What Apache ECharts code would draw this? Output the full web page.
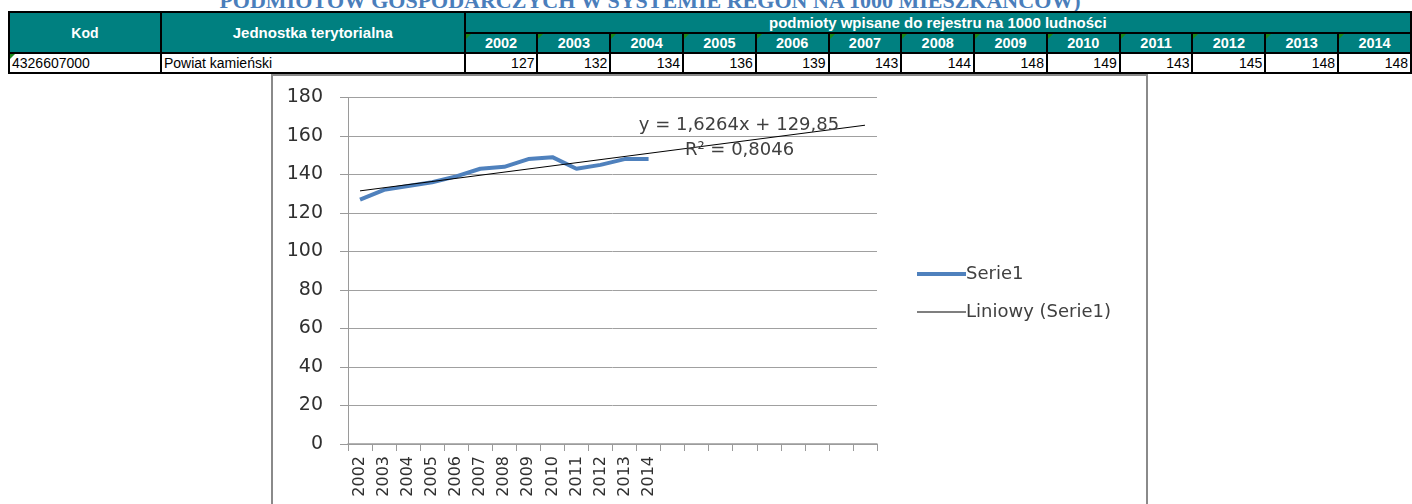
<!DOCTYPE html>
<html>
<head>
<meta charset="utf-8">
<script src="https://cdn.jsdelivr.net/npm/echarts@6/dist/echarts.min.js"></script>
<style>
  html, body { margin: 0; padding: 0; background: #fff; width: 1412px; height: 504px; overflow: hidden; position: relative; }
  #title { position: absolute; left: 0; width: 1300px; top: -10px; text-align: center; font-family: "Liberation Serif", serif; font-weight: bold; font-size: 22px; line-height: 22px; color: #4a7ebb; white-space: nowrap; }
  #tbl { position: absolute; left: 8px; top: 11px; border-collapse: collapse; table-layout: fixed; font-family: "Liberation Sans", Arial, sans-serif; }
  #tbl td, #tbl th { border: 2px solid #000; padding: 0 2px; overflow: hidden; white-space: nowrap; position: relative; }
  #tbl th { background: #008080; color: #fff; font-weight: bold; font-size: 14.5px; text-align: center; line-height: 16px; }
  #tbl th.big { font-size: 15px; }
  #tbl th.kod { font-size: 14px; }
  #tbl td { background: #fff; color: #000; font-size: 14px; height: 17px; line-height: 17px; }
  #tbl td.num { text-align: right; }
  .tri::before { content: ""; position: absolute; left: 0; top: 0; width: 0; height: 0; border-top: 5px solid #1a8a1a; border-right: 5px solid transparent; }
  #chart { position: absolute; left: 0; top: 0; width: 1412px; height: 504px; }
</style>
</head>
<body>
<div id="title"></div>
<table id="tbl"></table>
<div id="chart"></div>
<script>
// ---- data ----
const titleText = 'PODMIOTÓW GOSPODARCZYCH W SYSTEMIE REGON NA 1000 MIESZKAŃCÓW)';
const headerKod = 'Kod';
const headerUnit = 'Jednostka terytorialna';
const headerGroup = 'podmioty wpisane do rejestru na 1000 ludności';
const years = ['2002','2003','2004','2005','2006','2007','2008','2009','2010','2011','2012','2013','2014'];
const rowCode = '4326607000';
const rowName = 'Powiat kamieński';
const values = [127, 132, 134, 136, 139, 143, 144, 148, 149, 143, 145, 148, 148];
const emptyCategories = ['', '', '', '', '', '', '', '', ''];
const seriesName = 'Serie1';
const trendName = 'Liniowy (Serie1)';
const trendPoints = [[0, 131.5], [21, 165.6]];
const trendEquation = 'y = 1,6264x + 129,85';
const trendR2 = 'R² = 0,8046';
const yTicks = [0, 20, 40, 60, 80, 100, 120, 140, 160, 180];

// ---- table ----
document.getElementById('title').textContent = titleText;
const tbl = document.getElementById('tbl');
let colg = '<colgroup><col style="width:152px"><col style="width:304px">';
years.forEach(() => { colg += '<col style="width:72.85px">'; });
colg += '</colgroup>';
let h1 = '<tr style="height:21px"><th class="kod" rowspan="2">' + headerKod + '</th><th class="big" rowspan="2">' + headerUnit + '</th><th class="big" colspan="' + years.length + '">' + headerGroup + '</th></tr>';
let h2 = '<tr style="height:20px">' + years.map(y => '<th class="tri">' + y + '</th>').join('') + '</tr>';
let r = '<tr style="height:20px"><td class="tri">' + rowCode + '</td><td>' + rowName + '</td>' + values.map(v => '<td class="num">' + v + '</td>').join('') + '</tr>';
tbl.innerHTML = colg + h1 + h2 + r;

// ---- chart ----
const categories = years.concat(emptyCategories);
const chart = echarts.init(document.getElementById('chart'), null, { renderer: 'canvas' });
const FONT = '"DejaVu Sans", sans-serif';
chart.setOption({
  animation: false,
  backgroundColor: 'transparent',
  textStyle: { fontFamily: FONT },
  graphic: [
    { type: 'rect', shape: { x: 272, y: 75, width: 875, height: 450 }, style: { fill: 'none', stroke: '#8a8a8a', lineWidth: 2 }, silent: true },
    { type: 'text', x: 739, y: 125, style: { text: trendEquation, font: '18px ' + FONT, fill: '#404040', align: 'center', verticalAlign: 'middle' }, z: 10 },
    { type: 'text', x: 739.5, y: 150, style: { text: trendR2, font: '18px ' + FONT, fill: '#404040', align: 'center', verticalAlign: 'middle' }, z: 10 }
  ],
  grid: { left: 348, right: 535, top: 97.5, bottom: 60, containLabel: false },
  legend: {
    orient: 'vertical', left: 912, top: 260, itemWidth: 49, itemHeight: 18, itemGap: 20,
    symbolKeepAspect: true,
    textStyle: { fontFamily: FONT, fontSize: 18, color: '#404040', padding: [0, 0, 0, -5] },
    data: [
      { name: seriesName, icon: 'path://M0,0 H50 V4 H0 Z', itemStyle: { color: '#4f81bd' } },
      { name: trendName, icon: 'path://M0,0 H50 V1 H0 Z', itemStyle: { color: '#000' } }
    ]
  },
  xAxis: {
    type: 'category', data: categories, boundaryGap: true,
    axisLine: { show: true, lineStyle: { color: '#9a9a9a', width: 1.5 } },
    axisTick: { show: true, interval: 0, length: 7, lineStyle: { color: '#9a9a9a' } },
    axisLabel: { interval: 0, rotate: 90, margin: 12, fontSize: 16, color: '#303030', fontFamily: FONT },
    splitLine: { show: false }
  },
  yAxis: {
    type: 'value', min: yTicks[0], max: yTicks[yTicks.length - 1], interval: 20,
    axisLine: { show: true, lineStyle: { color: '#9a9a9a' } },
    axisTick: { show: true, length: 8, lineStyle: { color: '#9a9a9a' } },
    axisLabel: { margin: 25, fontSize: 19, color: '#303030', fontFamily: FONT },
    splitLine: { show: true, lineStyle: { color: '#a0a0a0', width: 1 } }
  },
  series: [
    { name: seriesName, type: 'line', data: values, symbol: 'none', lineStyle: { color: '#4f81bd', width: 4 }, itemStyle: { color: '#4f81bd' }, z: 3 },
    { name: trendName, type: 'line', data: trendPoints, symbol: 'none', lineStyle: { color: '#000', width: 1 }, itemStyle: { color: '#000' }, z: 4 }
  ]
});
</script>
</body>
</html>
